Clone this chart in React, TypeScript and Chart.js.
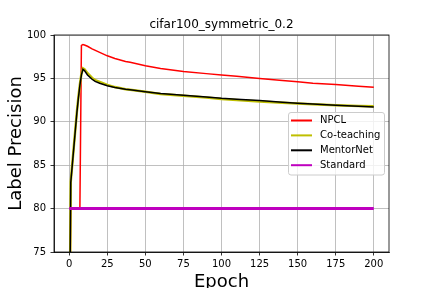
import React, { useEffect, useRef } from "react";
import { Chart, registerables } from "chart.js";

Chart.register(...registerables);

const FONT = "'DejaVu Sans', sans-serif";

const TITLE = "cifar100_symmetric_0.2";
const X_LABEL = "Epoch";
const Y_LABEL = "Label Precision";
const X_TICKS = [0, 25, 50, 75, 100, 125, 150, 175, 200];
const Y_TICKS = [75, 80, 85, 90, 95, 100];

const SERIES_NAMES = ["NPCL", "Co-teaching", "MentorNet", "Standard"];
const SERIES_COLORS = ["#ff0000", "#bfbf00", "#000000", "#bf00bf"];
const SERIES_WIDTHS = [1.5, 2.5, 1.5, 3];

const NPCL_EPOCHS = [0, 1, 7, 8, 9, 10, 12, 15, 20, 25, 30, 37, 40, 50, 60, 75, 90, 100, 110, 125, 140, 150, 160, 175, 190, 200];
const NPCL = [60, 80, 80, 98.8, 98.9, 98.85, 98.7, 98.4, 98.0, 97.6, 97.3, 96.95, 96.85, 96.45, 96.15, 95.8, 95.55, 95.4, 95.25, 95.0, 94.75, 94.6, 94.45, 94.3, 94.1, 93.97];

const BASELINE_EPOCHS = [0, 1, 2, 3, 4, 5, 6, 7, 8, 9, 10, 12, 15, 17, 20, 25, 30, 37, 40, 50, 60, 75, 90, 100, 110, 125, 140, 150, 160, 175, 190, 200];
const CO_TEACHING = [60, 83.1, 85.1, 87.1, 89.1, 91.1, 92.8, 94.3, 95.5, 96.15, 96.05, 95.6, 95.05, 94.8, 94.6, 94.25, 94.0, 93.75, 93.68, 93.45, 93.2, 93.0, 92.8, 92.62, 92.5, 92.35, 92.2, 92.1, 92.02, 91.92, 91.83, 91.78];
const MENTORNET = [60, 83, 85, 87, 89, 91, 92.7, 94.2, 95.4, 96.05, 95.9, 95.4, 94.9, 94.65, 94.45, 94.15, 93.95, 93.74, 93.68, 93.47, 93.25, 93.07, 92.85, 92.7, 92.6, 92.45, 92.25, 92.15, 92.05, 91.92, 91.8, 91.7];

const STANDARD_EPOCHS = [0, 200];
const STANDARD = [80, 80];

const toPoints = (xs: number[], ys: number[]) => xs.map((x, i) => ({ x, y: ys[i] }));

const framePlugin = {
  id: "frame",
  afterDatasetsDraw(chart: any) {
    const { ctx, chartArea } = chart;
    ctx.save();
    ctx.strokeStyle = "#000";
    ctx.lineWidth = 0.8;
    ctx.strokeRect(chartArea.left, chartArea.top, chartArea.right - chartArea.left, chartArea.bottom - chartArea.top);
    ctx.restore();
  },
};

const textPlugin = {
  id: "axisTitles",
  afterDraw(chart: any) {
    const { ctx, chartArea } = chart;
    ctx.save();
    ctx.fillStyle = "#000";
    ctx.font = `18px ${FONT}`;
    ctx.textAlign = "center";
    ctx.textBaseline = "alphabetic";
    ctx.fillText(X_LABEL, (chartArea.left + chartArea.right) / 2, 287);
    ctx.translate(20.5, (chartArea.top + chartArea.bottom) / 2);
    ctx.rotate(-Math.PI / 2);
    ctx.fillText(Y_LABEL, 0, 0);
    ctx.restore();
  },
};

const legendPlugin = {
  id: "mplLegend",
  afterDraw(chart: any) {
    const { ctx } = chart;
    const x0 = 288.5, y0 = 112.5, w = 96, h = 62.5, r = 2.5;
    ctx.save();
    ctx.beginPath();
    ctx.moveTo(x0 + r, y0);
    ctx.lineTo(x0 + w - r, y0);
    ctx.arcTo(x0 + w, y0, x0 + w, y0 + r, r);
    ctx.lineTo(x0 + w, y0 + h - r);
    ctx.arcTo(x0 + w, y0 + h, x0 + w - r, y0 + h, r);
    ctx.lineTo(x0 + r, y0 + h);
    ctx.arcTo(x0, y0 + h, x0, y0 + h - r, r);
    ctx.lineTo(x0, y0 + r);
    ctx.arcTo(x0, y0, x0 + r, y0, r);
    ctx.closePath();
    ctx.fillStyle = "rgba(255,255,255,0.8)";
    ctx.fill();
    ctx.strokeStyle = "#cccccc";
    ctx.lineWidth = 1;
    ctx.stroke();
    ctx.font = `10px ${FONT}`;
    ctx.textAlign = "left";
    ctx.textBaseline = "middle";
    chart.data.datasets.forEach((ds: any, i: number) => {
      const y = 120.5 + i * 14.9;
      ctx.beginPath();
      ctx.strokeStyle = ds.borderColor;
      ctx.lineWidth = 2;
      ctx.moveTo(291, y);
      ctx.lineTo(312, y);
      ctx.stroke();
      ctx.fillStyle = "#000";
      ctx.fillText(ds.label, 320, y);
    });
    ctx.restore();
  },
};

export default function App() {
  const ref = useRef<HTMLCanvasElement>(null);

  useEffect(() => {
    if (!ref.current) return;
    const seriesData = [
      toPoints(NPCL_EPOCHS, NPCL),
      toPoints(BASELINE_EPOCHS, CO_TEACHING),
      toPoints(BASELINE_EPOCHS, MENTORNET),
      toPoints(STANDARD_EPOCHS, STANDARD),
    ];
    const axisCommon = {
      type: "linear" as const,
      grid: { color: "#b0b0b0", lineWidth: 0.8, tickColor: "#000", tickLength: 3.5, tickWidth: 0.8 },
      border: { display: true, color: "#000", width: 0.8 },
    };
    const chart = new Chart(ref.current, {
      type: "line",
      data: {
        datasets: seriesData.map((d, i) => ({
          label: SERIES_NAMES[i],
          data: d,
          borderColor: SERIES_COLORS[i],
          backgroundColor: SERIES_COLORS[i],
          borderWidth: SERIES_WIDTHS[i],
          pointRadius: 0,
          tension: 0,
          fill: false,
          order: SERIES_NAMES.length - i,
        })),
      },
      options: {
        animation: false,
        responsive: false,
        devicePixelRatio: 1,
        events: [],
        layout: { padding: { left: 0, right: 43, top: 0, bottom: 0 } },
        plugins: {
          legend: { display: false },
          tooltip: { enabled: false },
          title: {
            display: true,
            text: TITLE,
            fullSize: false,
            color: "#000",
            font: { family: FONT, size: 12, weight: "normal", lineHeight: 1.2 },
            padding: { top: 18, bottom: 2.6 },
          },
        },
        scales: {
          x: {
            ...axisCommon,
            min: -10,
            max: 210,
            afterBuildTicks: (s: any) => {
              s.ticks = X_TICKS.map((v) => ({ value: v }));
            },
            afterFit: (s: any) => {
              s.height = 36;
            },
            ticks: { color: "#000", font: { family: FONT, size: 10 }, padding: 3, maxRotation: 0, autoSkip: false },
          },
          y: {
            ...axisCommon,
            min: 75,
            max: 100,
            afterBuildTicks: (s: any) => {
              s.ticks = Y_TICKS.map((v) => ({ value: v }));
            },
            afterFit: (s: any) => {
              s.width = 54;
            },
            ticks: { color: "#000", font: { family: FONT, size: 10 }, padding: 4.5, autoSkip: false },
          },
        },
      },
      plugins: [framePlugin, textPlugin, legendPlugin],
    } as any);
    return () => chart.destroy();
  }, []);

  return (
    <div style={{ position: "absolute", left: 0, top: 0, width: 432, height: 288, background: "#fff" }}>
      <canvas ref={ref} width={432} height={288} style={{ display: "block" }} />
    </div>
  );
}
